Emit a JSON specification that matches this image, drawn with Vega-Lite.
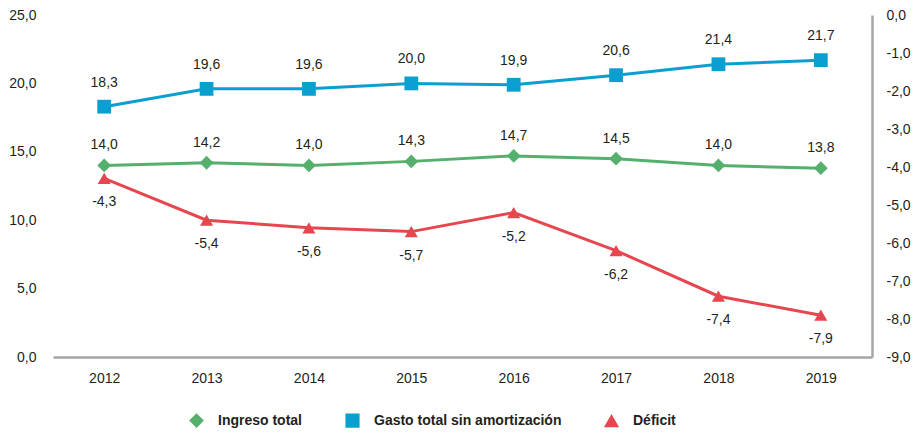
{
  "$schema": "https://vega.github.io/schema/vega-lite/v6.json",
  "width": 919,
  "height": 432,
  "autosize": {"type": "fit", "contains": "padding"},
  "padding": {"left": 8, "right": 8, "top": 8, "bottom": 47},
  "config": {
    "locale": {"number": {"decimal": ",", "thousands": ".", "grouping": [3], "currency": ["", " €"], "minus": "-"}},
    "font": "Liberation Sans",
    "view": {"stroke": null},
    "axis": {"labelFont": "Liberation Sans", "labelFontSize": 14, "labelColor": "#231f20", "grid": false, "ticks": false, "domainColor": "#a6a6a6", "domainWidth": 2.5},
    "legend": {"labelFont": "Liberation Sans", "labelFontSize": 14, "labelFontWeight": "bold", "labelColor": "#231f20", "labelLimit": 400}
  },
  "data": {"values": [
    {"year": "2012", "series": "Ingreso total", "value": 14.0},
    {"year": "2013", "series": "Ingreso total", "value": 14.2},
    {"year": "2014", "series": "Ingreso total", "value": 14.0},
    {"year": "2015", "series": "Ingreso total", "value": 14.3},
    {"year": "2016", "series": "Ingreso total", "value": 14.7},
    {"year": "2017", "series": "Ingreso total", "value": 14.5},
    {"year": "2018", "series": "Ingreso total", "value": 14.0},
    {"year": "2019", "series": "Ingreso total", "value": 13.8},
    {"year": "2012", "series": "Gasto total sin amortización", "value": 18.3},
    {"year": "2013", "series": "Gasto total sin amortización", "value": 19.6},
    {"year": "2014", "series": "Gasto total sin amortización", "value": 19.6},
    {"year": "2015", "series": "Gasto total sin amortización", "value": 20.0},
    {"year": "2016", "series": "Gasto total sin amortización", "value": 19.9},
    {"year": "2017", "series": "Gasto total sin amortización", "value": 20.6},
    {"year": "2018", "series": "Gasto total sin amortización", "value": 21.4},
    {"year": "2019", "series": "Gasto total sin amortización", "value": 21.7},
    {"year": "2012", "series": "Déficit", "value": -4.3},
    {"year": "2013", "series": "Déficit", "value": -5.4},
    {"year": "2014", "series": "Déficit", "value": -5.6},
    {"year": "2015", "series": "Déficit", "value": -5.7},
    {"year": "2016", "series": "Déficit", "value": -5.2},
    {"year": "2017", "series": "Déficit", "value": -6.2},
    {"year": "2018", "series": "Déficit", "value": -7.4},
    {"year": "2019", "series": "Déficit", "value": -7.9}
  ]},
  "encoding": {
    "x": {"field": "year", "type": "ordinal", "scale": {"type": "point", "padding": 0.5}, "axis": {"title": null, "labelAngle": 0, "labelPadding": 14}},
    "color": {"field": "series", "type": "nominal", "scale": {"domain": ["Ingreso total", "Gasto total sin amortización", "Déficit"], "range": ["#55b06e", "#0a9fd0", "#e6474f"]}, "legend": {"title": null, "orient": "none", "direction": "horizontal", "legendX": 136, "legendY": 398, "columnPadding": 40, "labelOffset": 14, "symbolSize": 160, "symbolOpacity": 1}}
  },
  "layer": [
    {
      "transform": [{"filter": "datum.series !== 'Déficit'"}],
      "encoding": {
        "y": {"field": "value", "type": "quantitative", "scale": {"domain": [0, 25]}, "axis": {"title": null, "values": [0, 5, 10, 15, 20, 25], "format": ".1f", "domain": false, "labelPadding": 17}}
      },
      "layer": [
        {"mark": {"type": "line", "strokeWidth": 3}},
        {"mark": {"type": "point", "filled": true, "opacity": 1, "size": 190}, "encoding": {"shape": {"field": "series", "type": "nominal", "scale": {"domain": ["Ingreso total", "Gasto total sin amortización", "Déficit"], "range": ["diamond", "square", "triangle-up"]}, "legend": {"title": null}}}},
        {"transform": [{"filter": "datum.series === 'Ingreso total'"}], "mark": {"type": "text", "dy": -20, "fontSize": 14, "color": "#231f20"}, "encoding": {"text": {"field": "value", "type": "quantitative", "format": ".1f"}, "color": {"value": "#231f20"}}},
        {"transform": [{"filter": "datum.series !== 'Ingreso total'"}], "mark": {"type": "text", "dy": -24, "fontSize": 14, "color": "#231f20"}, "encoding": {"text": {"field": "value", "type": "quantitative", "format": ".1f"}, "color": {"value": "#231f20"}}}
      ]
    },
    {
      "transform": [{"filter": "datum.series === 'Déficit'"}],
      "encoding": {
        "y": {"field": "value", "type": "quantitative", "scale": {"domain": [-9, 0]}, "axis": {"title": null, "orient": "right", "values": [-9, -8, -7, -6, -5, -4, -3, -2, -1, 0], "format": ".1f", "labelPadding": 14}}
      },
      "layer": [
        {"mark": {"type": "line", "strokeWidth": 3}},
        {"mark": {"type": "point", "filled": true, "opacity": 1, "size": 170}, "encoding": {"shape": {"field": "series", "type": "nominal", "scale": {"domain": ["Ingreso total", "Gasto total sin amortización", "Déficit"], "range": ["diamond", "square", "triangle-up"]}, "legend": {"title": null}}}},
        {"mark": {"type": "text", "dy": 24, "fontSize": 14, "color": "#231f20"}, "encoding": {"text": {"field": "value", "type": "quantitative", "format": ".1f"}, "color": {"value": "#231f20"}}}
      ]
    }
  ],
  "resolve": {"scale": {"y": "independent"}}
}
